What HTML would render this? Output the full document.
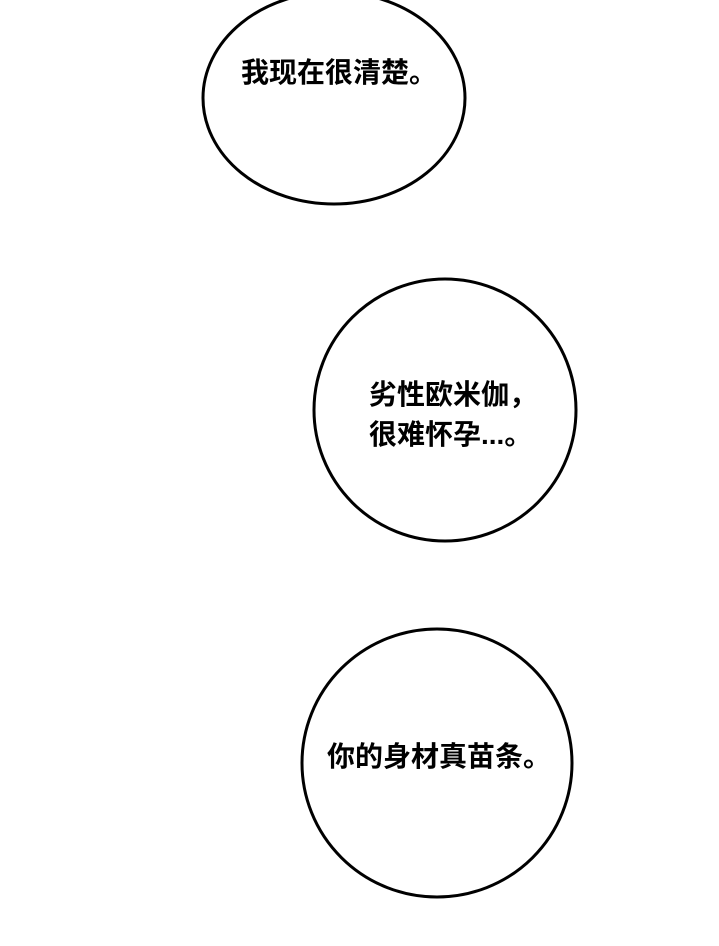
<!DOCTYPE html>
<html><head><meta charset="utf-8"><style>
html,body{margin:0;padding:0;background:#fff;width:719px;height:946px;overflow:hidden}
svg{display:block}
text{font-family:"Liberation Sans","Noto Sans CJK SC",sans-serif;font-size:28px;font-weight:bold;fill:#000}
</style></head><body>
<svg width="719" height="946" viewBox="0 0 719 946">
<g fill="#fff" stroke="#000" stroke-width="3">
<ellipse cx="334" cy="98" rx="131" ry="106"/>
<ellipse cx="445" cy="410" rx="131" ry="131"/>
<ellipse cx="437" cy="763" rx="135" ry="134"/>
</g>
<text x="339" y="82" text-anchor="middle">我现在很清楚。</text>
<text x="369" y="404">劣性欧米伽，</text>
<text x="369" y="444">很难怀孕...。</text>
<text x="439" y="766" text-anchor="middle">你的身材真苗条。</text>
</svg>
</body></html>
